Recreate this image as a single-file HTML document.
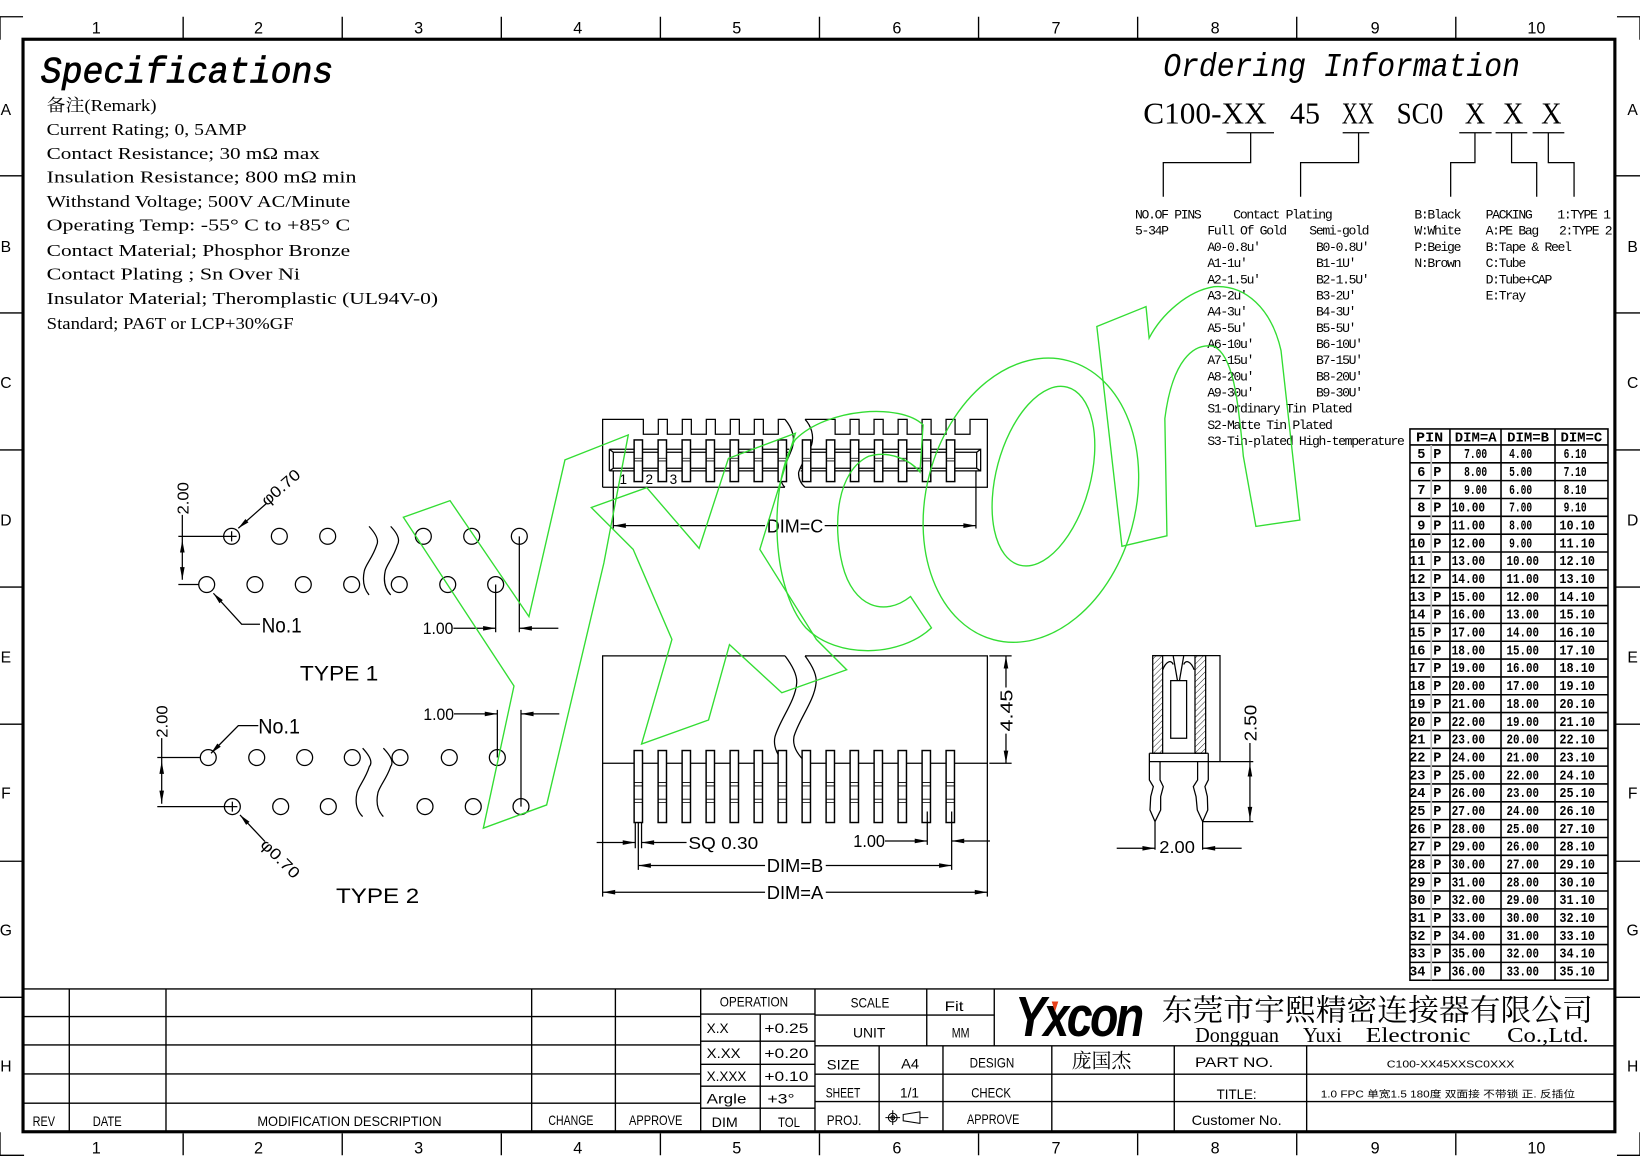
<!DOCTYPE html>
<html><head><meta charset="utf-8"><style>
html,body{margin:0;padding:0;background:#fff;}
svg{display:block;font-family:"Liberation Sans",sans-serif}
text{fill:#000}
.ln{stroke:#000;stroke-width:1.2;fill:none}
.tk{stroke:#000;stroke-width:1.3;fill:none}
.s{font-family:"Liberation Serif","Noto Serif CJK SC",serif}
.m{font-family:"Liberation Mono",monospace}
.g{stroke:#33dd33;stroke-width:1.3;fill:none}
.pin{fill:#fff;stroke:#000;stroke-width:1.4}
.ah{fill:#000;stroke:none}
.tb text{font-size:13px}
.ord text{font-family:"Liberation Mono",monospace;font-size:12.5px;letter-spacing:-1.25px}
.tab text{font-family:"Liberation Mono",monospace;font-weight:bold;font-size:13px}
.cjks{font-family:"Noto Serif CJK SC","Noto Sans CJK SC",serif}
.cjk{font-family:"Liberation Sans","Noto Sans CJK SC",sans-serif}
</style></head><body>
<svg xmlns="http://www.w3.org/2000/svg" width="1640" height="1171" viewBox="0 0 1567 1119" preserveAspectRatio="none">
<rect width="1567" height="1119" fill="#fff"/>

<!-- ===== FRAME ===== -->
<rect x="22" y="37.5" width="1521" height="1044" fill="none" stroke="#000" stroke-width="3"/>
<path class="tk" d="M175,16V37M327,16V37M479,16V37M631,16V37M783,16V37M935,16V37M1087,16V37M1239,16V37M1391,16V37
M175,1083V1104M327,1083V1104M479,1083V1104M631,1083V1104M783,1083V1104M935,1083V1104M1087,1083V1104M1239,1083V1104M1391,1083V1104
M0,168H22M0,299H22M0,430H22M0,561H22M0,692H22M0,823H22M0,953H22
M1543,168H1567M1543,299H1567M1543,430H1567M1543,561H1567M1543,692H1567M1543,823H1567M1543,953H1567
M22,16H0V38M1545,16H1567V38M0,1082V1104H23M1567,1082V1104H1545"/>
<g font-size="15.5" text-anchor="middle">
<text x="92" y="31.8">1</text><text x="247" y="31.8">2</text><text x="400" y="31.8">3</text><text x="552" y="31.8">4</text><text x="704" y="31.8">5</text><text x="857" y="31.8">6</text><text x="1009" y="31.8">7</text><text x="1161" y="31.8">8</text><text x="1314" y="31.8">9</text><text x="1468" y="31.8">10</text>
<text x="92" y="1102.5">1</text><text x="247" y="1102.5">2</text><text x="400" y="1102.5">3</text><text x="552" y="1102.5">4</text><text x="704" y="1102.5">5</text><text x="857" y="1102.5">6</text><text x="1009" y="1102.5">7</text><text x="1161" y="1102.5">8</text><text x="1314" y="1102.5">9</text><text x="1468" y="1102.5">10</text>
</g>
<g font-size="15" text-anchor="middle">
<text x="5.6" y="110">A</text><text x="5.6" y="241">B</text><text x="5.6" y="371">C</text><text x="5.6" y="502">D</text><text x="5.6" y="633">E</text><text x="5.6" y="763">F</text><text x="5.6" y="894">G</text><text x="5.6" y="1024">H</text>
<text x="1560" y="110">A</text><text x="1560" y="241">B</text><text x="1560" y="371">C</text><text x="1560" y="502">D</text><text x="1560" y="633">E</text><text x="1560" y="763">F</text><text x="1560" y="894">G</text><text x="1560" y="1024">H</text>
</g>

<!-- ===== SPECIFICATIONS ===== -->
<text class="m" x="38.9" y="79" font-size="35" font-style="italic" stroke="#000" stroke-width="0.7" textLength="279.6" lengthAdjust="spacingAndGlyphs">Specifications</text>
<g class="s" font-size="16.5">
<text x="44.6" y="106" textLength="105" lengthAdjust="spacingAndGlyphs">备注(Remark)</text>
<text x="44.6" y="129" textLength="191" lengthAdjust="spacingAndGlyphs">Current Rating; 0, 5AMP</text>
<text x="44.6" y="152" textLength="261" lengthAdjust="spacingAndGlyphs">Contact Resistance; 30 mΩ max</text>
<text x="44.6" y="174.5" textLength="296" lengthAdjust="spacingAndGlyphs">Insulation Resistance; 800 mΩ min</text>
<text x="44.6" y="198" textLength="290" lengthAdjust="spacingAndGlyphs">Withstand Voltage; 500V AC/Minute</text>
<text x="44.6" y="220.5" textLength="290" lengthAdjust="spacingAndGlyphs">Operating Temp: -55° C to +85° C</text>
<text x="44.6" y="244.5" textLength="290" lengthAdjust="spacingAndGlyphs">Contact Material; Phosphor Bronze</text>
<text x="44.6" y="267" textLength="242" lengthAdjust="spacingAndGlyphs">Contact Plating ; Sn Over Ni</text>
<text x="44.6" y="290.5" textLength="374" lengthAdjust="spacingAndGlyphs">Insulator Material; Theromplastic (UL94V-0)</text>
<text x="44.6" y="314.5" textLength="236" lengthAdjust="spacingAndGlyphs">Standard; PA6T or LCP+30%GF</text>
</g>

<!-- ===== ORDERING INFORMATION ===== -->
<text class="m" x="1111.5" y="72.6" font-size="32" font-style="italic" textLength="340.8" lengthAdjust="spacingAndGlyphs">Ordering Information</text>
<g class="s" font-size="29">
<text x="1092.4" y="117.8" textLength="117.9" lengthAdjust="spacingAndGlyphs">C100-XX</text>
<text x="1232.6" y="117.8" textLength="28.7" lengthAdjust="spacingAndGlyphs">45</text>
<text x="1282" y="117.8" textLength="31" lengthAdjust="spacingAndGlyphs">XX</text>
<text x="1334.5" y="117.8" textLength="44.5" lengthAdjust="spacingAndGlyphs">SC0</text>
<text x="1399.5" y="117.8" textLength="19.5" lengthAdjust="spacingAndGlyphs">X</text>
<text x="1436" y="117.8" textLength="19.5" lengthAdjust="spacingAndGlyphs">X</text>
<text x="1472.5" y="117.8" textLength="19.5" lengthAdjust="spacingAndGlyphs">X</text>
</g>
<path class="ln" d="M1172,126.8H1217.3M1282.9,126.8H1308.3M1394.3,126.8H1425.2M1429,126.8H1459.3M1464.4,126.8H1494.7
M1195,126.8V155.4H1111.5V188M1298.1,126.8V155.4H1242.7V188M1409.3,126.8V155.4H1386.1V188M1444.3,126.8V155.4H1468.3V188M1479.4,126.8V155.4H1504V188"/>
<g class="ord">
<text x="1084.5" y="208.6">NO.OF PINS</text>
<text x="1084.5" y="223.9">5-34P</text>
<text x="1178.4" y="208.6">Contact Plating</text>
<text x="1153.6" y="223.9">Full Of Gold</text>
<text x="1251" y="223.9">Semi-gold</text>
<text x="1153.6" y="239.8">A0-0.8u'</text><text x="1257.4" y="239.8">B0-0.8U'</text>
<text x="1153.6" y="255.25">A1-1u'</text><text x="1257.4" y="255.25">B1-1U'</text>
<text x="1153.6" y="270.7">A2-1.5u'</text><text x="1257.4" y="270.7">B2-1.5U'</text>
<text x="1153.6" y="286.15">A3-2u'</text><text x="1257.4" y="286.15">B3-2U'</text>
<text x="1153.6" y="301.6">A4-3u'</text><text x="1257.4" y="301.6">B4-3U'</text>
<text x="1153.6" y="317.05">A5-5u'</text><text x="1257.4" y="317.05">B5-5U'</text>
<text x="1153.6" y="332.5">A6-10u'</text><text x="1257.4" y="332.5">B6-10U'</text>
<text x="1153.6" y="347.95">A7-15u'</text><text x="1257.4" y="347.95">B7-15U'</text>
<text x="1153.6" y="363.4">A8-20u'</text><text x="1257.4" y="363.4">B8-20U'</text>
<text x="1153.6" y="378.85">A9-30u'</text><text x="1257.4" y="378.85">B9-30U'</text>
<text x="1153.6" y="394.3">S1-Ordinary Tin Plated</text>
<text x="1153.6" y="409.75">S2-Matte Tin Plated</text>
<text x="1153.6" y="425.2">S3-Tin-plated High-temperature</text>
<text x="1351.4" y="208.6">B:Black</text>
<text x="1351.4" y="223.9">W:White</text>
<text x="1351.4" y="239.8">P:Beige</text>
<text x="1351.4" y="255.25">N:Brown</text>
<text x="1419.5" y="208.6">PACKING</text>
<text x="1419.5" y="223.9">A:PE Bag</text>
<text x="1419.5" y="239.8">B:Tape &amp; Reel</text>
<text x="1419.5" y="255.25">C:Tube</text>
<text x="1419.5" y="270.7">D:Tube+CAP</text>
<text x="1419.5" y="286.15">E:Tray</text>
<text x="1488" y="208.6">1:TYPE 1</text>
<text x="1489.6" y="223.9">2:TYPE 2</text>
</g>

<!-- ===== TABLE ===== -->
<g stroke="#000" stroke-width="1.5" fill="none">
<rect x="1347.2" y="409.9" width="189.2" height="526.8"/>
<path d="M1385.4,409.9V936.7M1434.2,409.9V936.7M1485.8,409.9V936.7
M1347.2,425.2H1536.4M1347.2,442.25H1536.4M1347.2,459.3H1536.4M1347.2,476.35H1536.4M1347.2,493.4H1536.4M1347.2,510.45H1536.4M1347.2,527.5H1536.4M1347.2,544.55H1536.4M1347.2,561.6H1536.4M1347.2,578.65H1536.4M1347.2,595.7H1536.4M1347.2,612.75H1536.4M1347.2,629.8H1536.4M1347.2,646.85H1536.4M1347.2,663.9H1536.4M1347.2,680.95H1536.4M1347.2,698H1536.4M1347.2,715.05H1536.4M1347.2,732.1H1536.4M1347.2,749.15H1536.4M1347.2,766.2H1536.4M1347.2,783.25H1536.4M1347.2,800.3H1536.4M1347.2,817.35H1536.4M1347.2,834.4H1536.4M1347.2,851.45H1536.4M1347.2,868.5H1536.4M1347.2,885.55H1536.4M1347.2,902.6H1536.4M1347.2,919.65H1536.4"/>
</g>
<path d="M1367.5,425.2V936.7" stroke="#bbb" stroke-width="1.6"/>
<g class="tab">
<text x="1366" y="422" text-anchor="middle" textLength="26" lengthAdjust="spacingAndGlyphs">PIN</text>
<text x="1410" y="422" text-anchor="middle" textLength="40" lengthAdjust="spacingAndGlyphs">DIM=A</text>
<text x="1460" y="422" text-anchor="middle" textLength="40" lengthAdjust="spacingAndGlyphs">DIM=B</text>
<text x="1511" y="422" text-anchor="middle" textLength="40" lengthAdjust="spacingAndGlyphs">DIM=C</text>
</g>
<g class="tab" text-anchor="end">
<text x="1362" y="437.8">5</text><text x="1362" y="454.85">6</text><text x="1362" y="471.9">7</text><text x="1362" y="488.95">8</text><text x="1362" y="506">9</text>
<text x="1362" y="523.05">10</text><text x="1362" y="540.1">11</text><text x="1362" y="557.15">12</text><text x="1362" y="574.2">13</text><text x="1362" y="591.25">14</text>
<text x="1362" y="608.3">15</text><text x="1362" y="625.35">16</text><text x="1362" y="642.4">17</text><text x="1362" y="659.45">18</text><text x="1362" y="676.5">19</text>
<text x="1362" y="693.55">20</text><text x="1362" y="710.6">21</text><text x="1362" y="727.65">22</text><text x="1362" y="744.7">23</text><text x="1362" y="761.75">24</text>
<text x="1362" y="778.8">25</text><text x="1362" y="795.85">26</text><text x="1362" y="812.9">27</text><text x="1362" y="829.95">28</text><text x="1362" y="847">29</text>
<text x="1362" y="864.05">30</text><text x="1362" y="881.1">31</text><text x="1362" y="898.15">32</text><text x="1362" y="915.2">33</text><text x="1362" y="932.25">34</text>
</g>
<g class="tab">
<text x="1369.5" y="437.8">P</text><text x="1369.5" y="454.85">P</text><text x="1369.5" y="471.9">P</text><text x="1369.5" y="488.95">P</text><text x="1369.5" y="506">P</text>
<text x="1369.5" y="523.05">P</text><text x="1369.5" y="540.1">P</text><text x="1369.5" y="557.15">P</text><text x="1369.5" y="574.2">P</text><text x="1369.5" y="591.25">P</text>
<text x="1369.5" y="608.3">P</text><text x="1369.5" y="625.35">P</text><text x="1369.5" y="642.4">P</text><text x="1369.5" y="659.45">P</text><text x="1369.5" y="676.5">P</text>
<text x="1369.5" y="693.55">P</text><text x="1369.5" y="710.6">P</text><text x="1369.5" y="727.65">P</text><text x="1369.5" y="744.7">P</text><text x="1369.5" y="761.75">P</text>
<text x="1369.5" y="778.8">P</text><text x="1369.5" y="795.85">P</text><text x="1369.5" y="812.9">P</text><text x="1369.5" y="829.95">P</text><text x="1369.5" y="847">P</text>
<text x="1369.5" y="864.05">P</text><text x="1369.5" y="881.1">P</text><text x="1369.5" y="898.15">P</text><text x="1369.5" y="915.2">P</text><text x="1369.5" y="932.25">P</text>
<!-- DIM=A -->
<text x="1399" y="437.8" textLength="22" lengthAdjust="spacingAndGlyphs">7.00</text>
<text x="1399" y="454.85" textLength="22" lengthAdjust="spacingAndGlyphs">8.00</text>
<text x="1399" y="471.9" textLength="22" lengthAdjust="spacingAndGlyphs">9.00</text>
<text x="1387" y="488.95" textLength="32" lengthAdjust="spacingAndGlyphs">10.00</text>
<text x="1387" y="506" textLength="32" lengthAdjust="spacingAndGlyphs">11.00</text>
<text x="1387" y="523.05" textLength="32" lengthAdjust="spacingAndGlyphs">12.00</text>
<text x="1387" y="540.1" textLength="32" lengthAdjust="spacingAndGlyphs">13.00</text>
<text x="1387" y="557.15" textLength="32" lengthAdjust="spacingAndGlyphs">14.00</text>
<text x="1387" y="574.2" textLength="32" lengthAdjust="spacingAndGlyphs">15.00</text>
<text x="1387" y="591.25" textLength="32" lengthAdjust="spacingAndGlyphs">16.00</text>
<text x="1387" y="608.3" textLength="32" lengthAdjust="spacingAndGlyphs">17.00</text>
<text x="1387" y="625.35" textLength="32" lengthAdjust="spacingAndGlyphs">18.00</text>
<text x="1387" y="642.4" textLength="32" lengthAdjust="spacingAndGlyphs">19.00</text>
<text x="1387" y="659.45" textLength="32" lengthAdjust="spacingAndGlyphs">20.00</text>
<text x="1387" y="676.5" textLength="32" lengthAdjust="spacingAndGlyphs">21.00</text>
<text x="1387" y="693.55" textLength="32" lengthAdjust="spacingAndGlyphs">22.00</text>
<text x="1387" y="710.6" textLength="32" lengthAdjust="spacingAndGlyphs">23.00</text>
<text x="1387" y="727.65" textLength="32" lengthAdjust="spacingAndGlyphs">24.00</text>
<text x="1387" y="744.7" textLength="32" lengthAdjust="spacingAndGlyphs">25.00</text>
<text x="1387" y="761.75" textLength="32" lengthAdjust="spacingAndGlyphs">26.00</text>
<text x="1387" y="778.8" textLength="32" lengthAdjust="spacingAndGlyphs">27.00</text>
<text x="1387" y="795.85" textLength="32" lengthAdjust="spacingAndGlyphs">28.00</text>
<text x="1387" y="812.9" textLength="32" lengthAdjust="spacingAndGlyphs">29.00</text>
<text x="1387" y="829.95" textLength="32" lengthAdjust="spacingAndGlyphs">30.00</text>
<text x="1387" y="847" textLength="32" lengthAdjust="spacingAndGlyphs">31.00</text>
<text x="1387" y="864.05" textLength="32" lengthAdjust="spacingAndGlyphs">32.00</text>
<text x="1387" y="881.1" textLength="32" lengthAdjust="spacingAndGlyphs">33.00</text>
<text x="1387" y="898.15" textLength="32" lengthAdjust="spacingAndGlyphs">34.00</text>
<text x="1387" y="915.2" textLength="32" lengthAdjust="spacingAndGlyphs">35.00</text>
<text x="1387" y="932.25" textLength="32" lengthAdjust="spacingAndGlyphs">36.00</text>
<!-- DIM=B -->
<text x="1442" y="437.8" textLength="22" lengthAdjust="spacingAndGlyphs">4.00</text>
<text x="1442" y="454.85" textLength="22" lengthAdjust="spacingAndGlyphs">5.00</text>
<text x="1442" y="471.9" textLength="22" lengthAdjust="spacingAndGlyphs">6.00</text>
<text x="1442" y="488.95" textLength="22" lengthAdjust="spacingAndGlyphs">7.00</text>
<text x="1442" y="506" textLength="22" lengthAdjust="spacingAndGlyphs">8.00</text>
<text x="1442" y="523.05" textLength="22" lengthAdjust="spacingAndGlyphs">9.00</text>
<text x="1439.5" y="540.1" textLength="31" lengthAdjust="spacingAndGlyphs">10.00</text>
<text x="1439.5" y="557.15" textLength="31" lengthAdjust="spacingAndGlyphs">11.00</text>
<text x="1439.5" y="574.2" textLength="31" lengthAdjust="spacingAndGlyphs">12.00</text>
<text x="1439.5" y="591.25" textLength="31" lengthAdjust="spacingAndGlyphs">13.00</text>
<text x="1439.5" y="608.3" textLength="31" lengthAdjust="spacingAndGlyphs">14.00</text>
<text x="1439.5" y="625.35" textLength="31" lengthAdjust="spacingAndGlyphs">15.00</text>
<text x="1439.5" y="642.4" textLength="31" lengthAdjust="spacingAndGlyphs">16.00</text>
<text x="1439.5" y="659.45" textLength="31" lengthAdjust="spacingAndGlyphs">17.00</text>
<text x="1439.5" y="676.5" textLength="31" lengthAdjust="spacingAndGlyphs">18.00</text>
<text x="1439.5" y="693.55" textLength="31" lengthAdjust="spacingAndGlyphs">19.00</text>
<text x="1439.5" y="710.6" textLength="31" lengthAdjust="spacingAndGlyphs">20.00</text>
<text x="1439.5" y="727.65" textLength="31" lengthAdjust="spacingAndGlyphs">21.00</text>
<text x="1439.5" y="744.7" textLength="31" lengthAdjust="spacingAndGlyphs">22.00</text>
<text x="1439.5" y="761.75" textLength="31" lengthAdjust="spacingAndGlyphs">23.00</text>
<text x="1439.5" y="778.8" textLength="31" lengthAdjust="spacingAndGlyphs">24.00</text>
<text x="1439.5" y="795.85" textLength="31" lengthAdjust="spacingAndGlyphs">25.00</text>
<text x="1439.5" y="812.9" textLength="31" lengthAdjust="spacingAndGlyphs">26.00</text>
<text x="1439.5" y="829.95" textLength="31" lengthAdjust="spacingAndGlyphs">27.00</text>
<text x="1439.5" y="847" textLength="31" lengthAdjust="spacingAndGlyphs">28.00</text>
<text x="1439.5" y="864.05" textLength="31" lengthAdjust="spacingAndGlyphs">29.00</text>
<text x="1439.5" y="881.1" textLength="31" lengthAdjust="spacingAndGlyphs">30.00</text>
<text x="1439.5" y="898.15" textLength="31" lengthAdjust="spacingAndGlyphs">31.00</text>
<text x="1439.5" y="915.2" textLength="31" lengthAdjust="spacingAndGlyphs">32.00</text>
<text x="1439.5" y="932.25" textLength="31" lengthAdjust="spacingAndGlyphs">33.00</text>
<!-- DIM=C -->
<text x="1494" y="437.8" textLength="22" lengthAdjust="spacingAndGlyphs">6.10</text>
<text x="1494" y="454.85" textLength="22" lengthAdjust="spacingAndGlyphs">7.10</text>
<text x="1494" y="471.9" textLength="22" lengthAdjust="spacingAndGlyphs">8.10</text>
<text x="1494" y="488.95" textLength="22" lengthAdjust="spacingAndGlyphs">9.10</text>
<text x="1490" y="506" textLength="34" lengthAdjust="spacingAndGlyphs">10.10</text>
<text x="1490" y="523.05" textLength="34" lengthAdjust="spacingAndGlyphs">11.10</text>
<text x="1490" y="540.1" textLength="34" lengthAdjust="spacingAndGlyphs">12.10</text>
<text x="1490" y="557.15" textLength="34" lengthAdjust="spacingAndGlyphs">13.10</text>
<text x="1490" y="574.2" textLength="34" lengthAdjust="spacingAndGlyphs">14.10</text>
<text x="1490" y="591.25" textLength="34" lengthAdjust="spacingAndGlyphs">15.10</text>
<text x="1490" y="608.3" textLength="34" lengthAdjust="spacingAndGlyphs">16.10</text>
<text x="1490" y="625.35" textLength="34" lengthAdjust="spacingAndGlyphs">17.10</text>
<text x="1490" y="642.4" textLength="34" lengthAdjust="spacingAndGlyphs">18.10</text>
<text x="1490" y="659.45" textLength="34" lengthAdjust="spacingAndGlyphs">19.10</text>
<text x="1490" y="676.5" textLength="34" lengthAdjust="spacingAndGlyphs">20.10</text>
<text x="1490" y="693.55" textLength="34" lengthAdjust="spacingAndGlyphs">21.10</text>
<text x="1490" y="710.6" textLength="34" lengthAdjust="spacingAndGlyphs">22.10</text>
<text x="1490" y="727.65" textLength="34" lengthAdjust="spacingAndGlyphs">23.10</text>
<text x="1490" y="744.7" textLength="34" lengthAdjust="spacingAndGlyphs">24.10</text>
<text x="1490" y="761.75" textLength="34" lengthAdjust="spacingAndGlyphs">25.10</text>
<text x="1490" y="778.8" textLength="34" lengthAdjust="spacingAndGlyphs">26.10</text>
<text x="1490" y="795.85" textLength="34" lengthAdjust="spacingAndGlyphs">27.10</text>
<text x="1490" y="812.9" textLength="34" lengthAdjust="spacingAndGlyphs">28.10</text>
<text x="1490" y="829.95" textLength="34" lengthAdjust="spacingAndGlyphs">29.10</text>
<text x="1490" y="847" textLength="34" lengthAdjust="spacingAndGlyphs">30.10</text>
<text x="1490" y="864.05" textLength="34" lengthAdjust="spacingAndGlyphs">31.10</text>
<text x="1490" y="881.1" textLength="34" lengthAdjust="spacingAndGlyphs">32.10</text>
<text x="1490" y="898.15" textLength="34" lengthAdjust="spacingAndGlyphs">33.10</text>
<text x="1490" y="915.2" textLength="34" lengthAdjust="spacingAndGlyphs">34.10</text>
<text x="1490" y="932.25" textLength="34" lengthAdjust="spacingAndGlyphs">35.10</text>
</g>

<!-- ===== TOP VIEW CONNECTOR ===== -->
<path class="ln" d="M575.8,465.6V400.7H614.7V415H629V400.7H637.63V415H651.93V400.7H660.56V415H674.86V400.7H683.49V415H697.79V400.7H706.42V415H720.72V400.7H729.35V415H743.65V400.7H750 M575.8,465.6H750"/>
<path class="ln" d="M750,400.7C757,409 760,418 757,428C752,442 745,452 746,459C747,462 748,464 750,465.6"/>
<path class="ln" d="M769.2,400.7H797.95V415H812.25V400.7H820.85V415H835.15V400.7H843.85V415H858.15V400.7H866.75V415H881.05V400.7H889.65V415H903.95V400.7H912.55V415H926.85V400.7H943.4V465.6H769.2"/>
<path class="ln" d="M769.2,400.7C775,407 778,416 775.5,425C771,437 764,446 763,452C763,458 765,462 769.2,465.6"/>
<path class="ln" d="M582.2,429.3H754M582.2,450H749M582.2,429.3V450M586,432.2H753M586,447.5H749M586,432.2V447.5M582.2,429.3L586,432.2M582.2,450L586,447.5
M767,429.3H937V450H765M768,432.2H933.2V447.5H765M937,429.3L933.2,432.2M937,450L933.2,447.5"/>
<g>
<rect class="pin" x="605.9" y="420.4" width="8" height="39.8"/><rect class="pin" x="628.83" y="420.4" width="8" height="39.8"/><rect class="pin" x="651.76" y="420.4" width="8" height="39.8"/><rect class="pin" x="674.69" y="420.4" width="8" height="39.8"/><rect class="pin" x="697.62" y="420.4" width="8" height="39.8"/><rect class="pin" x="720.55" y="420.4" width="8" height="39.8"/><rect class="pin" x="743.48" y="420.4" width="8" height="39.8"/>
<rect class="pin" x="766.7" y="420.4" width="8" height="39.8"/><rect class="pin" x="789.63" y="420.4" width="8" height="39.8"/><rect class="pin" x="812.56" y="420.4" width="8" height="39.8"/><rect class="pin" x="835.49" y="420.4" width="8" height="39.8"/><rect class="pin" x="858.42" y="420.4" width="8" height="39.8"/><rect class="pin" x="881.35" y="420.4" width="8" height="39.8"/><rect class="pin" x="904.28" y="420.4" width="8" height="39.8"/>
</g>
<path stroke="#000" stroke-width="0.8" d="M605.9,437.9h8M605.9,440.5h8M628.83,437.9h8M628.83,440.5h8M651.76,437.9h8M651.76,440.5h8M674.69,437.9h8M674.69,440.5h8M697.62,437.9h8M697.62,440.5h8M720.55,437.9h8M720.55,440.5h8M743.48,437.9h8M743.48,440.5h8M766.7,437.9h8M766.7,440.5h8M789.63,437.9h8M789.63,440.5h8M812.56,437.9h8M812.56,440.5h8M835.49,437.9h8M835.49,440.5h8M858.42,437.9h8M858.42,440.5h8M881.35,437.9h8M881.35,440.5h8M904.28,437.9h8M904.28,440.5h8"/>
<g font-size="13" text-anchor="middle"><text x="595.6" y="462.5">1</text><text x="620.4" y="462.5">2</text><text x="643.4" y="462.5">3</text></g>
<path class="ln" d="M586,450V505M932.5,450V505M586,502.3H731M788,502.3H932.5"/>
<polygon class="ah" points="586,502.3 598,500 598,504.6"/><polygon class="ah" points="932.5,502.3 920.5,500 920.5,504.6"/>
<text x="759.6" y="508.7" font-size="17.5" text-anchor="middle" textLength="54" lengthAdjust="spacingAndGlyphs">DIM=C</text>

<!-- ===== FRONT VIEW CONNECTOR ===== -->
<path class="ln" d="M750.1,626.8H575.8V729.3H747M769.2,626.8H943.4V729.3H766"/>
<path class="ln" d="M750.1,626.8C757,636 762,645 761.2,653C760,670 745,688 740.5,704C738,715 745,724 750.1,731"/>
<path class="ln" d="M769.2,626.8C776,636 781,645 779.7,653C778,670 763,688 758.6,704C757,713 762,720 766.9,725.5"/>
<g>
<rect class="pin" x="605.9" y="717.2" width="8" height="68.8"/><rect class="pin" x="628.83" y="717.2" width="8" height="68.8"/><rect class="pin" x="651.76" y="717.2" width="8" height="68.8"/><rect class="pin" x="674.69" y="717.2" width="8" height="68.8"/><rect class="pin" x="697.62" y="717.2" width="8" height="68.8"/><rect class="pin" x="720.55" y="717.2" width="8" height="68.8"/><rect class="pin" x="743.48" y="717.2" width="8" height="68.8"/>
<rect class="pin" x="766.41" y="717.2" width="8" height="68.8"/><rect class="pin" x="789.34" y="717.2" width="8" height="68.8"/><rect class="pin" x="812.27" y="717.2" width="8" height="68.8"/><rect class="pin" x="835.2" y="717.2" width="8" height="68.8"/><rect class="pin" x="858.13" y="717.2" width="8" height="68.8"/><rect class="pin" x="881.06" y="717.2" width="8" height="68.8"/><rect class="pin" x="903.99" y="717.2" width="8" height="68.8"/>
</g>
<path stroke="#000" stroke-width="0.8" d="M605.9,747.8h8M605.9,751h8M605.9,763.7h8M605.9,767h8M628.83,747.8h8M628.83,751h8M628.83,763.7h8M628.83,767h8M651.76,747.8h8M651.76,751h8M651.76,763.7h8M651.76,767h8M674.69,747.8h8M674.69,751h8M674.69,763.7h8M674.69,767h8M697.62,747.8h8M697.62,751h8M697.62,763.7h8M697.62,767h8M720.55,747.8h8M720.55,751h8M720.55,763.7h8M720.55,767h8M743.48,747.8h8M743.48,751h8M743.48,763.7h8M743.48,767h8M766.41,747.8h8M766.41,751h8M766.41,763.7h8M766.41,767h8M789.34,747.8h8M789.34,751h8M789.34,763.7h8M789.34,767h8M812.27,747.8h8M812.27,751h8M812.27,763.7h8M812.27,767h8M835.2,747.8h8M835.2,751h8M835.2,763.7h8M835.2,767h8M858.13,747.8h8M858.13,751h8M858.13,763.7h8M858.13,767h8M881.06,747.8h8M881.06,751h8M881.06,763.7h8M881.06,767h8M903.99,747.8h8M903.99,751h8M903.99,763.7h8M903.99,767h8"/>
<path class="ln" d="M607,786V810.6M613,786V810.6M570.1,805.1H607M613,805.1H656
M886,775.5V807.4M909.3,775.5V831.3M845.6,803.6H886M945.9,803.6H909.3
M609.9,786V831.3M609.9,827.1H731M789,827.1H909.3
M575.8,729.3V856.8M943.4,729.3V856.8M575.8,852.6H731M789,852.6H943.4
M945.3,626.8H966.6M945.3,729.3H966.6M961.2,626.8V657M961.2,701V729.3"/>
<polygon class="ah" points="607,805.1 595,802.9 595,807.3"/><polygon class="ah" points="613,805.1 625,802.9 625,807.3"/>
<polygon class="ah" points="886,803.6 874,801.4 874,805.8"/><polygon class="ah" points="909.3,803.6 921.3,801.4 921.3,805.8"/>
<polygon class="ah" points="609.9,827.1 621.9,824.9 621.9,829.3"/><polygon class="ah" points="909.3,827.1 897.3,824.9 897.3,829.3"/>
<polygon class="ah" points="575.8,852.6 587.8,850.4 587.8,854.8"/><polygon class="ah" points="943.4,852.6 931.4,850.4 931.4,854.8"/>
<polygon class="ah" points="961.2,626.8 959,638.8 963.4,638.8"/><polygon class="ah" points="961.2,729.3 959,717.3 963.4,717.3"/>
<text x="657.7" y="811.5" font-size="17" textLength="66.8" lengthAdjust="spacingAndGlyphs">SQ 0.30</text>
<text x="815.3" y="809.6" font-size="17" textLength="30.3" lengthAdjust="spacingAndGlyphs">1.00</text>
<text x="759.6" y="833.5" font-size="17.5" text-anchor="middle" textLength="54" lengthAdjust="spacingAndGlyphs">DIM=B</text>
<text x="759.6" y="859" font-size="17.5" text-anchor="middle" textLength="54" lengthAdjust="spacingAndGlyphs">DIM=A</text>
<text transform="translate(967.5,679) rotate(-90)" font-size="17" text-anchor="middle" textLength="40" lengthAdjust="spacingAndGlyphs">4.45</text>

<!-- ===== SIDE VIEW ===== -->
<defs><pattern id="hat" patternUnits="userSpaceOnUse" width="4" height="4" patternTransform="rotate(45)"><line x1="0" y1="0" x2="0" y2="4" stroke="#000" stroke-width="0.8"/></pattern></defs>
<rect x="1101.4" y="626.5" width="9.5" height="93.3" fill="url(#hat)" stroke="#000" stroke-width="1.2"/>
<rect x="1141.8" y="626.5" width="10.2" height="93.3" fill="url(#hat)" stroke="#000" stroke-width="1.2"/>
<path class="ln" d="M1101.4,626.5H1165.7V727.8M1098.2,719.8H1154.5M1098.2,719.8V727.8M1154.5,719.8V727.8M1098.2,727.8H1197.5
M1118.6,650.4H1133.8V705.5H1118.6Z
M1121,627L1125,650M1131,627L1127,650M1111,640C1114,632 1119,630 1121,635M1141,640C1138,632 1133,630 1131,635
M1098.2,727.8V745.3L1102,751.7L1099.5,761.2L1098.8,774L1103.6,785.1L1109,774L1109,761.2L1111.5,751.7L1108.4,745.3V727.8
M1154.5,727.8V745.3L1151.3,751.7L1153.6,761.2L1154,774L1149.1,785.1L1144,774L1142.8,761.2L1140.2,751.7L1144.3,745.3V727.8
M1149.1,785.1H1197.5M1194.3,710V785.1M1103.6,785.1V812M1149.1,785.1V812M1067,810.6H1103.6M1149.1,810.6H1186.4"/>
<polygon class="ah" points="1194.3,730 1192.1,742 1196.5,742"/><polygon class="ah" points="1194.3,783 1192.1,771 1196.5,771"/>
<polygon class="ah" points="1103.6,810.6 1091.6,808.4 1091.6,812.8"/><polygon class="ah" points="1149.1,810.6 1161.1,808.4 1161.1,812.8"/>
<text transform="translate(1200.8,691) rotate(-90)" font-size="17" text-anchor="middle" textLength="35" lengthAdjust="spacingAndGlyphs">2.50</text>
<text x="1107.7" y="815.3" font-size="17" textLength="34" lengthAdjust="spacingAndGlyphs">2.00</text>

<!-- ===== TYPE 1 ===== -->
<g class="ln">
<circle cx="221.3" cy="512.5" r="7.6"/><circle cx="266.9" cy="512.5" r="7.6"/><circle cx="313.1" cy="512.5" r="7.6"/><circle cx="404.5" cy="512.5" r="7.6"/><circle cx="450.7" cy="512.5" r="7.6"/><circle cx="496.2" cy="512.5" r="7.6"/>
<circle cx="197.5" cy="558.6" r="7.6"/><circle cx="243.6" cy="558.6" r="7.6"/><circle cx="289.8" cy="558.6" r="7.6"/><circle cx="336" cy="558.6" r="7.6"/><circle cx="381.5" cy="558.6" r="7.6"/><circle cx="427.8" cy="558.6" r="7.6"/><circle cx="473.6" cy="558.6" r="7.6"/>
<path d="M216.5,512.5H226.1M221.3,507.7V517.3
M170.4,512.5H221.3M170.4,558.6H190M174.2,492V554
M203.9,566.9L230.9,596.5H248.4M227.7,504.8L254.8,480.9
M433.2,600.4H473.6M473.6,558.6V604.2M496.2,512.5V604.2M533.5,600.4H496.2
M352.6,503C360,511 362,517 359.9,521C356,533 349,540 348,546C346,556 348,563 352.6,568.5
M373.3,503C381,511 382,517 379.6,521C376,533 369,540 368,546C366,556 368,563 373.3,568.5"/>
</g>
<polygon class="ah" points="174.2,516 172,528 176.4,528"/><polygon class="ah" points="174.2,554 172,542 176.4,542"/>
<polygon class="ah" points="203.9,566.9 209.7,576.5 212.9,573.5"/>
<polygon class="ah" points="227.7,504.8 237.4,499.2 234.5,495.9"/>
<polygon class="ah" points="473.6,600.4 461.6,598.2 461.6,602.6"/><polygon class="ah" points="496.2,600.4 508.2,598.2 508.2,602.6"/>
<text transform="translate(180,476.2) rotate(-90)" font-size="15" text-anchor="middle" textLength="31" lengthAdjust="spacingAndGlyphs">2.00</text>
<text transform="translate(255,484) rotate(-41)" font-size="15" textLength="44" lengthAdjust="spacingAndGlyphs">φ0.70</text>
<text x="250" y="604.2" font-size="20" textLength="38.2" lengthAdjust="spacingAndGlyphs">No.1</text>
<text x="403.9" y="605.8" font-size="15.5" textLength="29.3" lengthAdjust="spacingAndGlyphs">1.00</text>
<text x="286.6" y="650.4" font-size="20" textLength="74.9" lengthAdjust="spacingAndGlyphs">TYPE 1</text>

<!-- ===== TYPE 2 ===== -->
<g class="ln">
<circle cx="199" cy="723.9" r="7.6"/><circle cx="245.3" cy="723.9" r="7.6"/><circle cx="291.1" cy="723.9" r="7.6"/><circle cx="336.6" cy="723.9" r="7.6"/><circle cx="382.2" cy="723.9" r="7.6"/><circle cx="429.3" cy="723.9" r="7.6"/><circle cx="475.2" cy="723.9" r="7.6"/>
<circle cx="222" cy="770.8" r="7.6"/><circle cx="268.2" cy="770.8" r="7.6"/><circle cx="313.7" cy="770.8" r="7.6"/><circle cx="406.1" cy="770.8" r="7.6"/><circle cx="452.2" cy="770.8" r="7.6"/><circle cx="497.8" cy="770.8" r="7.6"/>
<path d="M217.2,770.8H226.8M222,766V775.6
M150.3,723.9H191M150.3,770.8H222M154.5,705.4V768
M201.6,719.8L227.7,693.4H246.8M229.3,778.7L253.2,804.2
M433.8,682.2H475.2M475.2,678.4V723.9M497.8,678.4V770.8M534.4,682.2H497.8
M346.5,715C354,723 356,729 352.9,732.5C349,745 342,752 341,758C339,768 341,775 346.5,780.3
M366.3,715C374,723 376,729 373.3,732.5C369,745 362,752 361,758C359,768 361,775 366.3,780.3"/>
</g>
<polygon class="ah" points="154.5,727.5 152.3,739.5 156.7,739.5"/><polygon class="ah" points="154.5,767.5 152.3,755.5 156.7,755.5"/>
<polygon class="ah" points="201.6,719.8 210.9,713.6 207.7,710.5"/>
<polygon class="ah" points="229.3,778.7 235.2,788.2 238.4,785.2"/>
<polygon class="ah" points="475.2,682.2 463.2,680 463.2,684.4"/><polygon class="ah" points="497.8,682.2 509.8,680 509.8,684.4"/>
<text transform="translate(160,689.5) rotate(-90)" font-size="15" text-anchor="middle" textLength="31" lengthAdjust="spacingAndGlyphs">2.00</text>
<text transform="translate(248,808) rotate(45)" font-size="15" textLength="46" lengthAdjust="spacingAndGlyphs">φ0.70</text>
<text x="246.8" y="700.7" font-size="20" textLength="39.8" lengthAdjust="spacingAndGlyphs">No.1</text>
<text x="404.5" y="688" font-size="15.5" textLength="29.3" lengthAdjust="spacingAndGlyphs">1.00</text>
<text x="321" y="863.1" font-size="20" textLength="79.6" lengthAdjust="spacingAndGlyphs">TYPE 2</text>

<!-- ===== TITLE BLOCK ===== -->
<g stroke="#000" stroke-width="1.3" fill="none">
<path d="M22,945H1543
M22,971.4H669.5M22,998.5H669.5M22,1026.2H669.5M22,1054.2H669.5
M66.2,945V1081M158.6,945V1081M508,945V1081M588,945V1081M669.5,945V1081
M726.4,969V1081M669.5,969H778.7M669.5,995H778.7M669.5,1017H778.7M669.5,1038H778.7M669.5,1059H778.7
M778.7,945V1081M885.5,945V999.4M778.7,970H950M950,945V999.4
M778.7,999.4H1543M778.7,1026.5H1543M778.7,1052.6H1543
M840,999.4V1081M901,999.4V1081M1005,999.4V1081M1122,999.4V1081M1248.5,999.4V1081"/>
</g>
<g class="tb">
<text x="31.2" y="1076" textLength="21.4" lengthAdjust="spacingAndGlyphs">REV</text>
<text x="88.6" y="1076" textLength="27.7" lengthAdjust="spacingAndGlyphs">DATE</text>
<text x="245.9" y="1076" textLength="176" lengthAdjust="spacingAndGlyphs">MODIFICATION DESCRIPTION</text>
<text x="524" y="1075" textLength="43" lengthAdjust="spacingAndGlyphs">CHANGE</text>
<text x="601" y="1075" textLength="51" lengthAdjust="spacingAndGlyphs">APPROVE</text>
<text x="687.7" y="962" textLength="65.4" lengthAdjust="spacingAndGlyphs">OPERATION</text>
<text x="675.2" y="987" textLength="21" lengthAdjust="spacingAndGlyphs">X.X</text>
<text x="730.4" y="987" textLength="42" lengthAdjust="spacingAndGlyphs">+0.25</text>
<text x="675.2" y="1011" textLength="32.4" lengthAdjust="spacingAndGlyphs">X.XX</text>
<text x="730.4" y="1011" textLength="42" lengthAdjust="spacingAndGlyphs">+0.20</text>
<text x="675.2" y="1033" textLength="38" lengthAdjust="spacingAndGlyphs">X.XXX</text>
<text x="730.4" y="1033" textLength="42" lengthAdjust="spacingAndGlyphs">+0.10</text>
<text x="675.2" y="1054.5" textLength="38" lengthAdjust="spacingAndGlyphs">Argle</text>
<text x="733.2" y="1054.5" textLength="26" lengthAdjust="spacingAndGlyphs">+3°</text>
<text x="680" y="1077" textLength="25" lengthAdjust="spacingAndGlyphs">DIM</text>
<text x="743.4" y="1077" textLength="21" lengthAdjust="spacingAndGlyphs">TOL</text>
<text x="812.8" y="963" textLength="37" lengthAdjust="spacingAndGlyphs">SCALE</text>
<text x="902.6" y="966" textLength="18" lengthAdjust="spacingAndGlyphs">Fit</text>
<text x="815" y="991.5" textLength="31" lengthAdjust="spacingAndGlyphs">UNIT</text>
<text x="909.4" y="991.5" textLength="17" lengthAdjust="spacingAndGlyphs">MM</text>
<text x="790" y="1022" textLength="31.3" lengthAdjust="spacingAndGlyphs">SIZE</text>
<text x="861" y="1021" textLength="17.2" lengthAdjust="spacingAndGlyphs">A4</text>
<text x="926.5" y="1020" textLength="42.7" lengthAdjust="spacingAndGlyphs">DESIGN</text>
<text x="789" y="1049" textLength="33" lengthAdjust="spacingAndGlyphs">SHEET</text>
<text x="860" y="1049" textLength="18" lengthAdjust="spacingAndGlyphs">1/1</text>
<text x="928" y="1049" textLength="38" lengthAdjust="spacingAndGlyphs">CHECK</text>
<text x="790" y="1075" textLength="33" lengthAdjust="spacingAndGlyphs">PROJ.</text>
<text x="924" y="1074" textLength="50" lengthAdjust="spacingAndGlyphs">APPROVE</text>
<text x="1141.8" y="1019.5" textLength="74.8" lengthAdjust="spacingAndGlyphs">PART NO.</text>
<text x="1162.5" y="1050" textLength="38.2" lengthAdjust="spacingAndGlyphs">TITLE:</text>
<text x="1138.6" y="1075" textLength="86" lengthAdjust="spacingAndGlyphs">Customer No.</text>
</g>
<text x="1325" y="1020" font-size="10" textLength="122" lengthAdjust="spacingAndGlyphs">C100-XX45XXSC0XXX</text>
<text class="cjk" x="1262" y="1049" font-size="9.5" textLength="243" lengthAdjust="spacingAndGlyphs">1.0 FPC 单宽1.5 180度 双面接 不带锁 正. 反插位</text>
<text class="cjks" x="1024" y="1020" font-size="19" textLength="57" lengthAdjust="spacingAndGlyphs">庞国杰</text>
<!-- projection symbol -->
<g stroke="#000" stroke-width="1" fill="none">
<circle cx="853" cy="1068" r="4.2"/><circle cx="853" cy="1068" r="1.8"/>
<path d="M846,1068H860M853,1061V1075M863,1065L879,1062.5V1073.5L863,1071ZM879,1068H887"/>
</g>
<!-- logo -->
<text x="969.8" y="990" font-size="54" font-weight="bold" font-style="italic" textLength="121" lengthAdjust="spacingAndGlyphs" letter-spacing="-3">Yxcon</text>
<polygon points="1004.9,957 1011.2,957 1008,966.7" fill="#e8401a"/>
<text class="cjks" x="1110" y="975" font-size="29" textLength="412" lengthAdjust="spacingAndGlyphs">东莞市宇熙精密连接器有限公司</text>
<g class="s" font-size="20">
<text x="1142" y="995.5" textLength="80" lengthAdjust="spacingAndGlyphs">Dongguan</text>
<text x="1245" y="995.5" textLength="37" lengthAdjust="spacingAndGlyphs">Yuxi</text>
<text x="1305" y="995.5" textLength="100" lengthAdjust="spacingAndGlyphs">Electronic</text>
<text x="1440" y="995.5" textLength="78" lengthAdjust="spacingAndGlyphs">Co.,Ltd.</text>
</g>

<!-- ===== GREEN WATERMARK ===== -->
<g class="g">
<polygon points="385.4,494.3 430,478.4 505.4,589.2 539.8,439.5 600.3,415.6 577,538 522.3,769.2 461.8,791.4 491.1,655.5"/>
<polygon points="565,485 618,466 668,524 696,438 760,414 726,525 780,611 809,640 747,662 697,616 677,688 613,711 642,611 605,525"/>
<path d="M882,406C860,385 790,390 760,420C735,460 735,560 770,600C800,630 860,628 890,600L870,570C845,590 815,580 805,540C795,500 800,450 830,436C850,430 870,440 879,451Z"/>
<ellipse cx="985" cy="478" rx="100" ry="138" transform="rotate(15 985 478)"/>
<ellipse cx="997" cy="455" rx="45" ry="88" transform="rotate(15 997 455)"/>
<path d="M1048,312L1095,293L1098,323C1110,300 1135,278 1160,274C1190,272 1215,295 1224,335L1242,497L1200,503L1188,436C1183,380 1178,340 1160,331C1140,327 1120,345 1113,400L1115,512L1072,522Z"/>
</g>
</svg>
</body></html>
